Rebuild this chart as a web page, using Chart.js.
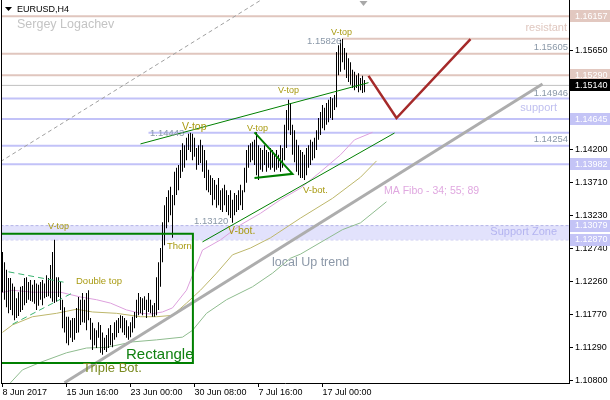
<!DOCTYPE html>
<html lang="en">
<head>
<meta charset="UTF-8">
<title>EURUSD H4</title>
<script src="https://cdn.jsdelivr.net/npm/chart.js"></script>
<style>
    html, body { margin: 0; padding: 0; background: #ffffff; }
    #wrap { width: 610px; height: 400px; }
</style>
</head>
<body>
<div id="wrap"><canvas id="chart" width="610" height="400"></canvas></div>
<script>
// H4 bars, high and low of each bar (first bar is 8 Jun 2017)
const barHigh = [
    1.1269,1.1254,1.1243,1.1231,1.1231,1.1223,1.1218,1.1201,1.1210,1.1218,
    1.1219,1.1231,1.1232,1.1225,1.1228,1.1221,1.1228,1.1223,1.1221,1.1225,
    1.1228,1.1223,1.1235,1.1231,1.1250,1.1269,1.1287,1.1232,1.1232,1.1225,
    1.1199,1.1188,1.1174,1.1174,1.1169,1.1172,1.1172,1.1187,1.1203,1.1199,
    1.1209,1.1199,1.1209,1.1213,1.1172,1.1165,1.1157,1.1154,1.1166,1.1162,
    1.1151,1.1143,1.1147,1.1157,1.1162,1.1150,1.1166,1.1169,1.1172,1.1176,
    1.1175,1.1172,1.1169,1.1160,1.1166,1.1174,1.1181,1.1199,1.1209,1.1203,
    1.1201,1.1204,1.1199,1.1209,1.1199,1.1191,1.1194,1.1232,1.1254,1.1275,
    1.1313,1.1338,1.1350,1.1360,1.1365,1.1353,1.1387,1.1393,1.1397,1.1419,
    1.1429,1.1426,1.1437,1.1443,1.14444,1.1443,1.1437,1.1422,1.1426,1.1434,
    1.1426,1.1419,1.1404,1.1390,1.1382,1.1378,1.1375,1.1368,1.1378,1.1360,
    1.1363,1.1368,1.1360,1.1353,1.1360,1.1346,1.1356,1.1353,1.1360,1.1368,
    1.1360,1.1393,1.1419,1.1426,1.1429,1.1431,1.1434,1.1445,1.1426,1.1422,
    1.1419,1.1426,1.1419,1.1416,1.1422,1.1419,1.1412,1.1419,1.1412,1.1426,
    1.1422,1.1456,1.1478,1.1493,1.1488,1.1456,1.1448,1.1434,1.1426,1.1419,
    1.1416,1.1412,1.1422,1.1426,1.1434,1.1431,1.1437,1.1448,1.1466,1.1475,
    1.1485,1.1481,1.1488,1.1493,1.1497,1.1495,1.1500,1.1563,1.1573,1.1581,
    1.15826,1.1569,1.1562,1.1554,1.1548,1.1537,1.1534,1.1529,1.1532,1.1525,
    1.1528,1.1522
];
const barLow = [
    1.1210,1.1199,1.1188,1.1179,1.1184,1.1176,1.1169,1.1172,1.1175,1.1181,
    1.1184,1.1191,1.1194,1.1199,1.1197,1.1196,1.1193,1.1184,1.1190,1.1199,
    1.1191,1.1201,1.1203,1.1204,1.1201,1.1196,1.1194,1.1196,1.1203,1.1184,
    1.1157,1.1151,1.1135,1.1132,1.1143,1.1137,1.1140,1.1150,1.1151,1.1162,
    1.1166,1.1165,1.1154,1.1169,1.1140,1.1125,1.1132,1.1128,1.1143,1.1121,
    1.1118,1.1125,1.1122,1.1128,1.1132,1.1129,1.1140,1.1144,1.1150,1.1157,
    1.1151,1.1147,1.1143,1.1140,1.1144,1.1151,1.1157,1.1172,1.1176,1.1179,
    1.1176,1.1184,1.1172,1.1181,1.1179,1.1174,1.1174,1.1176,1.1184,1.1218,
    1.1254,1.1279,1.1304,1.1313,1.1323,1.1290,1.1338,1.1353,1.1360,1.1378,
    1.1387,1.1393,1.1404,1.1419,1.1416,1.1404,1.1409,1.1390,1.1397,1.1400,
    1.1387,1.1378,1.1360,1.1357,1.1353,1.1338,1.1346,1.1334,1.1338,1.1331,
    1.1328,1.1338,1.1328,1.1323,1.1319,1.1312,1.1323,1.1328,1.1331,1.1338,
    1.1331,1.1357,1.1371,1.1393,1.1401,1.1404,1.1397,1.1382,1.1375,1.1390,
    1.1387,1.1397,1.1387,1.1393,1.1390,1.1393,1.1387,1.1390,1.1393,1.1387,
    1.1393,1.1404,1.1422,1.1448,1.1441,1.1412,1.1401,1.1387,1.1382,1.1378,
    1.1378,1.1375,1.1382,1.1393,1.1397,1.1404,1.1407,1.1419,1.1434,1.1441,
    1.1451,1.1448,1.1456,1.1460,1.1466,1.1463,1.1478,1.1482,1.1529,1.1534,
    1.1548,1.1537,1.1525,1.1519,1.1515,1.1510,1.1507,1.1510,1.1504,1.1507,
    1.1503,1.1504
];

// moving averages (MA Fibo 34 / 55 / 89), read at these bar positions
const ma34X = [-1, 5, 15, 29, 39, 47, 54, 62, 69, 74, 80, 85, 92, 95, 100, 109, 119, 129, 139, 149, 159, 169, 176, 185];
const ma34  = [1.1209, 1.1213, 1.1210, 1.1210, 1.1203, 1.1199, 1.1194, 1.1184, 1.1179, 1.1178, 1.1181, 1.1187,
               1.1213, 1.1235, 1.1272, 1.1287, 1.1309, 1.1326, 1.1346, 1.1363, 1.1387, 1.1412, 1.1434, 1.1445];
const ma55X = [0, 5, 15, 27, 37, 45, 57, 69, 77, 85, 92, 99, 107, 115, 124, 134, 149, 165, 179, 187];
const ma55  = [1.1151, 1.1162, 1.1174, 1.1179, 1.1185, 1.1181, 1.1179, 1.1174, 1.1174, 1.1176,
               1.1194, 1.1213, 1.1238, 1.1265, 1.1275, 1.1290, 1.1319, 1.1348, 1.1379, 1.1403];
const ma89X = [-1, 4, 10, 19, 32, 42, 52, 65, 77, 90, 95, 102, 112, 125, 135, 144, 149, 170, 179, 192];
const ma89  = [1.1062, 1.1077, 1.1096, 1.1107, 1.1121, 1.1128, 1.1129, 1.1137, 1.1140, 1.1144,
               1.1154, 1.1179, 1.1199, 1.1218, 1.1238, 1.1260, 1.1266, 1.1302, 1.1312, 1.1343];

// horizontal levels
const resistLevels = [1.16157, 1.15605, 1.15290];
const topLevel = 1.15826;
const supportLevels = [1.14946, 1.14645, 1.14254, 1.13982];
const midLevel = 1.14444;
const bidPrice = 1.15140;
const zoneTop = 1.13079;
const zoneBottom = 1.12870;

// axes
const yTicks = [1.15650, 1.14200, 1.13710, 1.13230, 1.12740, 1.12260, 1.11770, 1.11290, 1.10800];
const xTickIdx = [0, 32, 64, 96, 128, 160];
const xTickLabels = ['8 Jun 2017', '15 Jun 16:00', '23 Jun 00:00', '30 Jun 08:00', '7 Jul 16:00', '17 Jul 00:00'];

// drawn objects, as [bar, price] points
const upTrend = [[31, 1.1077], [270, 1.1516]];
const upTrendCopy = [[-1, 1.1402], [129, 1.1639]];
const channelTop = [[69, 1.1428], [183, 1.1518]];
const channelBottom = [[100, 1.1284], [196, 1.1444]];
const triangle = [[126, 1.1445], [145, 1.1384], [126, 1.1378]];
const rectangle = [[-1, 1.1296], [95.2, 1.1296], [95.2, 1.1106], [-1, 1.1106]];
const wedgeTop = [[3, 1.1240], [32, 1.1224]];
const wedgeBottom = [[5, 1.1163], [35, 1.1209]];
const forecast = [[183, 1.1528], [197, 1.1466], [234, 1.1582]];

const FONT = '"Liberation Sans", Arial, sans-serif';
const GOLD = '#a89a10';
const PRICE_TXT = '#8a98a8';

const notes = [
    { t: 'V-top', i: 22.75, p: 1.1307, c: GOLD, s: 9 },
    { t: 'Double top', i: 36.75, p: 1.1226, c: GOLD, s: 9.5 },
    { t: 'Thorn', i: 82.25, p: 1.1277, c: GOLD, s: 9.5 },
    { t: '1.14443', i: 73.75, p: 1.1443, c: PRICE_TXT, s: 9.5 },
    { t: 'V-top', i: 89.75, p: 1.1452, c: GOLD, s: 10.5 },
    { t: 'V-top', i: 122.25, p: 1.1450, c: GOLD, s: 9 },
    { t: '1.13120', i: 95.75, p: 1.1314, c: PRICE_TXT, s: 9.5 },
    { t: 'V-bot.', i: 112.75, p: 1.1300, c: GOLD, s: 10.5 },
    { t: 'V-top', i: 137.75, p: 1.1507, c: GOLD, s: 9 },
    { t: 'V-bot.', i: 150.25, p: 1.1360, c: GOLD, s: 9.5 },
    { t: 'V-top', i: 164.25, p: 1.1592, c: GOLD, s: 9 },
    { t: '1.15826', i: 152.25, p: 1.1578, c: PRICE_TXT, s: 9.5 },
    { t: '1.15605', i: 282.75, p: 1.1570, c: PRICE_TXT, s: 9.5, a: 'right' },
    { t: '1.14946', i: 282.75, p: 1.1503, c: PRICE_TXT, s: 9.5, a: 'right' },
    { t: '1.14254', i: 282.75, p: 1.1435, c: PRICE_TXT, s: 9.5, a: 'right' },
    { t: 'resistant', i: 282.25, p: 1.1598, c: '#e0c8c0', s: 11, a: 'right' },
    { t: 'support', i: 277.25, p: 1.1481, c: '#c0c0f0', s: 11, a: 'right' },
    { t: 'Support Zone', i: 277.25, p: 1.1298, c: '#b4b4f0', s: 11, a: 'right' },
    { t: 'MA Fibo - 34; 55; 89', i: 190.75, p: 1.1358, c: '#e0a8e0', s: 10.5 },
    { t: 'local Up trend', i: 134.75, p: 1.1254, c: '#8c98a8', s: 12.5 },
    { t: 'Rectangle', i: 61.75, p: 1.1118, c: '#108010', s: 15 },
    { t: 'Triple Bot.', i: 40.25, p: 1.1098, c: '#7a8a20', s: 13 }
];

const axisBoxes = [
    { p: 1.16157, bg: '#e2c8c0', fg: '#ffffff' },
    { p: 1.15290, bg: '#e2c8c0', fg: '#ffffff' },
    { p: 1.15140, bg: '#000000', fg: '#ffffff' },
    { p: 1.14645, bg: '#c4c4f6', fg: '#ffffff' },
    { p: 1.13982, bg: '#c4c4f6', fg: '#ffffff' },
    { p: 1.13079, bg: '#c4c4f6', fg: '#ffffff' },
    { p: 1.12870, bg: '#c4c4f6', fg: '#ffffff' }
];

function pts(list) {
    return list.map(q => ({ x: q[0], y: q[1] }));
}

function lineSet(data, color, width, order, dash) {
    return {
        type: 'line',
        data: data,
        borderColor: color,
        borderWidth: width,
        borderDash: dash || [],
        pointRadius: 0,
        fill: false,
        tension: 0,
        order: order
    };
}

function level(p, color, width, from) {
    return lineSet([{ x: from === undefined ? -1 : from, y: p }, { x: 284, y: p }], color, width, 9);
}

const datasets = [];

// support zone
datasets.push(Object.assign(level(zoneTop, '#b4b4e8', 1), {
    borderDash: [3, 2], fill: { target: { value: zoneBottom } }, backgroundColor: '#e2e2fc', order: 11
}));
datasets.push(Object.assign(level(zoneBottom, '#b4b4e8', 1), { borderDash: [3, 2], order: 11 }));

resistLevels.forEach(p => datasets.push(level(p, '#e0c6be', 2)));
datasets.push(level(topLevel, '#e0c6be', 2, 170));
supportLevels.forEach(p => datasets.push(level(p, '#c2c2f8', 2)));
datasets.push(level(midLevel, '#c2c2f8', 2, 73));
datasets.push(level(bidPrice, '#c0c0c0', 1));

// moving averages
datasets.push(lineSet(ma34X.map((x, k) => ({ x: x, y: ma34[k] })), '#dda0dd', 1, 8));
datasets.push(lineSet(ma55X.map((x, k) => ({ x: x, y: ma55[k] })), '#bdb76b', 1, 8));
datasets.push(lineSet(ma89X.map((x, k) => ({ x: x, y: ma89[k] })), '#8fbc8f', 1, 8));

// trend lines
datasets.push(lineSet(pts(upTrendCopy), '#a0a0a0', 1, 7, [4, 3]));
datasets.push(lineSet(pts(upTrend), '#adadad', 3, 7));

// price bars
datasets.push({
    type: 'bar',
    data: barHigh.map((h, i) => ({ x: i, y: [barLow[i], h] })),
    backgroundColor: '#000000',
    borderWidth: 0,
    inflateAmount: 0,
    barThickness: 1,
    order: 5
});

// patterns
datasets.push(lineSet(pts(wedgeTop), '#3cb371', 1, 4, [6, 4]));
datasets.push(lineSet(pts(wedgeBottom), '#3cb371', 1, 4, [6, 4]));
datasets.push(lineSet(pts(channelTop), '#008000', 1, 4));
datasets.push(lineSet(pts(channelBottom), '#008000', 1, 4));
datasets.push(lineSet(pts(triangle), '#008000', 2, 4));
datasets.push(lineSet(pts(rectangle), '#008000', 2, 4));
datasets.push(lineSet(pts(forecast), '#a52a2a', 2.5, 3));

const overlay = {
    id: 'overlay',
    afterDatasetsDraw(chart) {
        const { ctx, chartArea: a, scales: { x, y } } = chart;
        ctx.save();
        ctx.beginPath();
        ctx.rect(a.left, a.top, a.right - a.left, a.bottom - a.top);
        ctx.clip();
        ctx.textBaseline = 'middle';
        notes.forEach(n => {
            ctx.font = n.s + 'px ' + FONT;
            ctx.fillStyle = n.c;
            ctx.textAlign = n.a || 'left';
            ctx.fillText(n.t, x.getPixelForValue(n.i), y.getPixelForValue(n.p));
        });
        // chart shift marker
        const sx = x.getPixelForValue(180.5);
        ctx.fillStyle = '#a8a8a8';
        ctx.beginPath();
        ctx.moveTo(sx - 4, a.top + 1);
        ctx.lineTo(sx + 4, a.top + 1);
        ctx.lineTo(sx, a.top + 6);
        ctx.closePath();
        ctx.fill();
        // header
        ctx.fillStyle = '#000000';
        ctx.beginPath();
        ctx.moveTo(a.left + 4, a.top + 7);
        ctx.lineTo(a.left + 11, a.top + 7);
        ctx.lineTo(a.left + 7.5, a.top + 11);
        ctx.closePath();
        ctx.fill();
        ctx.textAlign = 'left';
        ctx.font = '9px ' + FONT;
        ctx.fillText('EURUSD,H4', a.left + 16, a.top + 10);
        ctx.font = '12.5px ' + FONT;
        ctx.fillStyle = '#c4c4c4';
        ctx.fillText('Sergey Logachev', a.left + 16, a.top + 25);
        ctx.restore();
    },
    afterDraw(chart) {
        const { ctx, chartArea: a, scales: { y } } = chart;
        ctx.save();
        ctx.font = '9px ' + FONT;
        ctx.textBaseline = 'middle';
        ctx.textAlign = 'left';
        axisBoxes.forEach(b => {
            const py = y.getPixelForValue(b.p);
            ctx.fillStyle = b.bg;
            ctx.fillRect(a.right + 1, Math.round(py) - 6, chart.width - a.right - 1, 12);
            ctx.fillStyle = b.fg;
            ctx.fillText(b.p.toFixed(5), a.right + 6, py);
        });
        // left frame
        ctx.fillStyle = '#000000';
        ctx.fillRect(a.left, a.top, 1, a.bottom - a.top);
        ctx.restore();
    }
};

new Chart(document.getElementById('chart'), {
    type: 'bar',
    data: { datasets: datasets },
    plugins: [overlay],
    options: {
        responsive: false,
        devicePixelRatio: 1,
        animation: false,
        events: [],
        layout: { padding: { left: 1, right: 0, top: 0, bottom: 0 }, autoPadding: false },
        plugins: { legend: { display: false }, tooltip: { enabled: false } },
        scales: {
            x: {
                type: 'linear',
                min: -0.75,
                max: 283.25,
                offset: false,
                grid: { offset: false, drawOnChartArea: false, drawTicks: true, tickLength: 4, color: '#000000' },
                border: { display: true, color: '#000000' },
                ticks: {
                    autoSkip: false,
                    maxRotation: 0,
                    align: 'start',
                    padding: 0,
                    color: '#000000',
                    font: { family: FONT, size: 9 },
                    callback: v => xTickLabels[xTickIdx.indexOf(v)]
                },
                afterBuildTicks: s => { s.ticks = xTickIdx.map(v => ({ value: v })); },
                afterFit: s => { s.height = 17; s.paddingLeft = 0; s.paddingRight = 0; }
            },
            y: {
                type: 'linear',
                position: 'right',
                min: 1.10766,
                max: 1.16395,
                beginAtZero: false,
                bounds: 'data',
                grid: { drawOnChartArea: false, drawTicks: true, tickLength: 4, color: '#000000' },
                border: { display: true, color: '#000000' },
                ticks: {
                    padding: 2,
                    color: '#000000',
                    font: { family: FONT, size: 9 },
                    callback: v => v.toFixed(5)
                },
                afterBuildTicks: s => { s.ticks = yTicks.map(v => ({ value: v })); },
                afterFit: s => { s.width = 41; s.paddingTop = 0; s.paddingBottom = 0; }
            }
        }
    }
});
</script>
</body>
</html>
